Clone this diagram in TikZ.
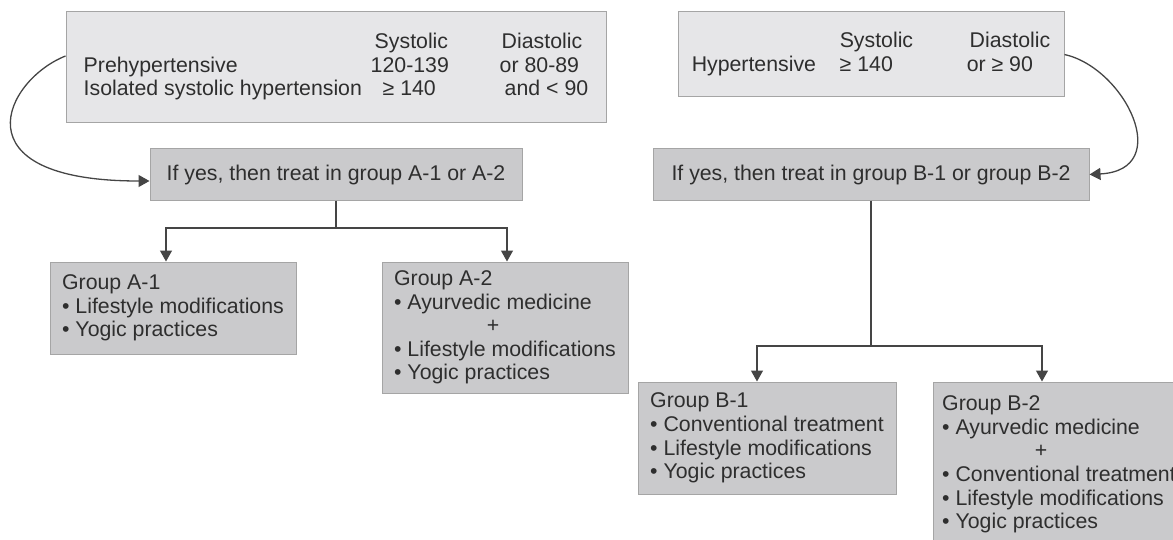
\documentclass[tikz,border=0pt]{standalone}
\usepackage{fontspec}
\setmainfont{Liberation Sans}
\usepackage{calc}
\usetikzlibrary{arrows.meta}

\definecolor{textgray}{HTML}{2E2E2E}
\definecolor{lightfill}{HTML}{E6E6E8}
\definecolor{darkfill}{HTML}{CACACC}
\definecolor{edgegray}{HTML}{A5A5A5}
\definecolor{linegray}{HTML}{454545}

% the plus sign sits centred under the line it joins
\newcommand{\pluscentred}[1]{\makebox[\widthof{#1}]{+}}

\tikzset{
  lightbox/.style={draw=edgegray, line width=0.5pt, fill=lightfill, inner sep=0pt, text=textgray},
  darkbox/.style={draw=edgegray, line width=0.5pt, fill=darkfill, inner sep=0pt, text=textgray, align=left},
  link/.style={draw=linegray, line width=0.65pt},
  arrowlink/.style={link, -{Triangle[length=5.5pt,width=6pt]}},
}

\begin{document}
\begin{tikzpicture}[x=0.5pt, y=-0.5pt, font=\fontsize{10.65}{11.8}\selectfont]
    \useasboundingbox (0,0) rectangle (1173,540);
    \clip (0,0) rectangle (1173,540);

    % Criteria
    \node[lightbox, minimum width=270pt, minimum height=55.5pt] (box1) at (336,67.5) {%
      \begin{tabular}{@{}p{143.5pt}@{}p{64.5pt}@{}l@{}}
        & \hspace*{2pt}Systolic & \hspace*{1pt}Diastolic\\
        Prehypertensive & 120-139 & or 80-89\\
        Isolated systolic hypertension & \hspace*{6pt}≥ 140 & \hspace*{2.5pt}and < 90
      \end{tabular}};
    \node[lightbox, minimum width=193pt, minimum height=42.5pt] (box2) at (871,54.5) {%
      \begin{tabular}{@{}p{74pt}@{}p{63.5pt}@{}l@{}}
        & Systolic & \hspace*{1.5pt}Diastolic\\
        Hypertensive & ≥ 140 & or ≥ 90
      \end{tabular}};

    % Decision
    \node[darkbox, align=center, minimum width=186pt, minimum height=25.5pt] (boxA) at (336,174.5) {If yes, then treat in group A-1 or A-2};
    \node[darkbox, align=center, minimum width=218pt, minimum height=25.5pt] (boxB) at (871,174.5) {If yes, then treat in group B-1 or group B-2};
        % Curved arrows into the decision boxes
        \draw[arrowlink] ([yshift=5.75pt]box1.west) .. controls (5,80) and (-45,181) .. ([yshift=-3.25pt]boxA.west);
        \draw[arrowlink] (box2.east) .. controls (1125,68) and (1175,170) .. (boxB.east);

    % Groups A
    \node[darkbox, minimum width=123pt, minimum height=46pt] (grpA1) at (173,308) {Group A-1\\• Lifestyle modifications\\• Yogic practices};
    \node[darkbox, minimum width=123pt, minimum height=65.5pt] (grpA2) at (505,327.5) {Group A-2\\• Ayurvedic medicine\\\pluscentred{• Ayurvedic medicine}\\• Lifestyle modifications\\• Yogic practices};
    \coordinate (splitA) at (336,228);
        \draw[link] (boxA.south) -- (splitA);
        \draw[arrowlink] (splitA) -| ([xshift=-3.5pt]grpA1.north);
        \draw[arrowlink] (splitA) -| ([xshift=1pt]grpA2.north);

    % Groups B
    \node[darkbox, minimum width=129pt, minimum height=56pt] (grpB1) at (767,438) {Group B-1\\• Conventional treatment\\• Lifestyle modifications\\• Yogic practices};
    \node[darkbox, minimum width=126pt, minimum height=82.5pt] (grpB2) at (1059,464.5) {Group B-2\\• Ayurvedic medicine\\\pluscentred{• Ayurvedic medicine}\\• Conventional treatment\\• Lifestyle modifications\\• Yogic practices};
    \coordinate (splitB) at (871,346);
        \draw[link] (boxB.south) -- (splitB);
        \draw[arrowlink] (splitB) -| ([xshift=-5pt]grpB1.north);
        \draw[arrowlink] (splitB) -| ([xshift=-8.5pt]grpB2.north);
\end{tikzpicture}
\end{document}
